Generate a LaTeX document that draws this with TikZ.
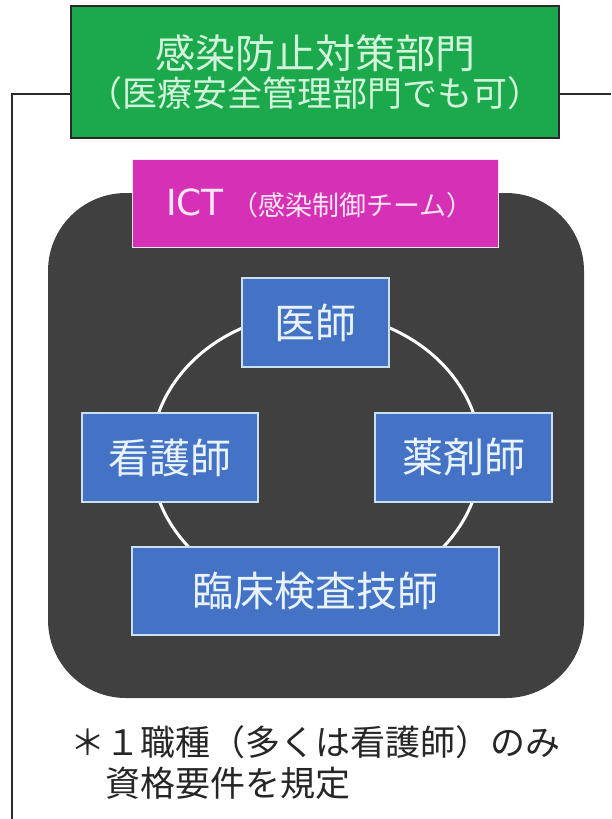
\documentclass[tikz,border=0pt]{standalone}
\usepackage{fontspec}
\setmainfont{Noto Sans CJK JP}
\newfontfamily\latinwide{DejaVu Sans}
\definecolor{grnfill}{HTML}{1BA94C}
\definecolor{grntext}{HTML}{D2F5DC}
\definecolor{magfill}{HTML}{D631B6}
\definecolor{magtext}{HTML}{FBE6F6}
\definecolor{darkbg}{HTML}{404040}
\definecolor{bluefill}{HTML}{4472C4}
\definecolor{blueedge}{HTML}{C9E0F2}
\definecolor{bluetext}{HTML}{E8F3FF}
\definecolor{linecol}{HTML}{2A2A2A}
\definecolor{notecol}{HTML}{262626}
\tikzset{
  greenbox/.style={draw=linecol, line width=1.3pt, fill=grnfill, text=grntext, inner sep=0pt, align=center},
  magbox/.style={draw=magtext, line width=1pt, fill=magfill, text=magtext, inner sep=0pt},
  bluebox/.style={draw=blueedge, line width=1.5pt, fill=bluefill, text=bluetext, inner sep=0pt, minimum height=89pt, font=\fontsize{41}{44}\selectfont},
  conn/.style={draw=linecol, line width=1.4pt},
  ring/.style={draw=white, line width=3pt},
  notetext/.style={text=notecol, inner sep=0pt, align=left, font=\fontsize{35}{41}\selectfont}
}
\begin{document}
\begin{tikzpicture}[x=1pt,y=-1pt]
\useasboundingbox[fill=white] (0,0) rectangle (611,819);
% top department box and bracket line
\node[greenbox, minimum width=488pt, minimum height=132pt] (dept) at (315,72) {{\fontsize{40}{42}\selectfont 感染防止対策部門}\\[4pt]{\fontsize{35}{42}\selectfont （医療安全管理部門でも可）}};
\coordinate (lt) at (12,94);
\coordinate (rt) at (611,94);
\coordinate (lb) at (12,819);
\draw[conn] (dept.west |- lt) -- (lt) -- (lb);
\draw[conn] (dept.east |- rt) -- (rt);
% dark team area
\fill[darkbg, rounded corners=78pt] (48,193) rectangle (584,698);
% ICT label
\node[magbox, minimum width=366pt, minimum height=88pt] (ict) at (315,203) {\hspace{10pt}\raisebox{-9pt}{{\latinwide\fontsize{36}{40}\selectfont ICT}\hspace{8pt}{\fontsize{27}{30}\selectfont （感染制御チーム）}}};
% ring
\coordinate (ringc) at (316,456);
\draw[ring] (ringc) ellipse [x radius=165, y radius=143];
% members
\node[bluebox, minimum width=147pt] (doc) at (315.5,322.5) {医師};
\node[bluebox, minimum width=176pt] (nurse) at (170,457.5) {看護師};
\node[bluebox, minimum width=177pt] (pharm) at (463.5,457.5) {薬剤師};
\node[bluebox, minimum width=367pt, minimum height=88pt] (lab) at (315.5,591) {臨床検査技師};
% footnote
\node[notetext, anchor=west] (note) at (70,762.5) {＊１職種（多くは看護師）のみ\\\hspace*{1em}資格要件を規定};
\end{tikzpicture}
\end{document}
